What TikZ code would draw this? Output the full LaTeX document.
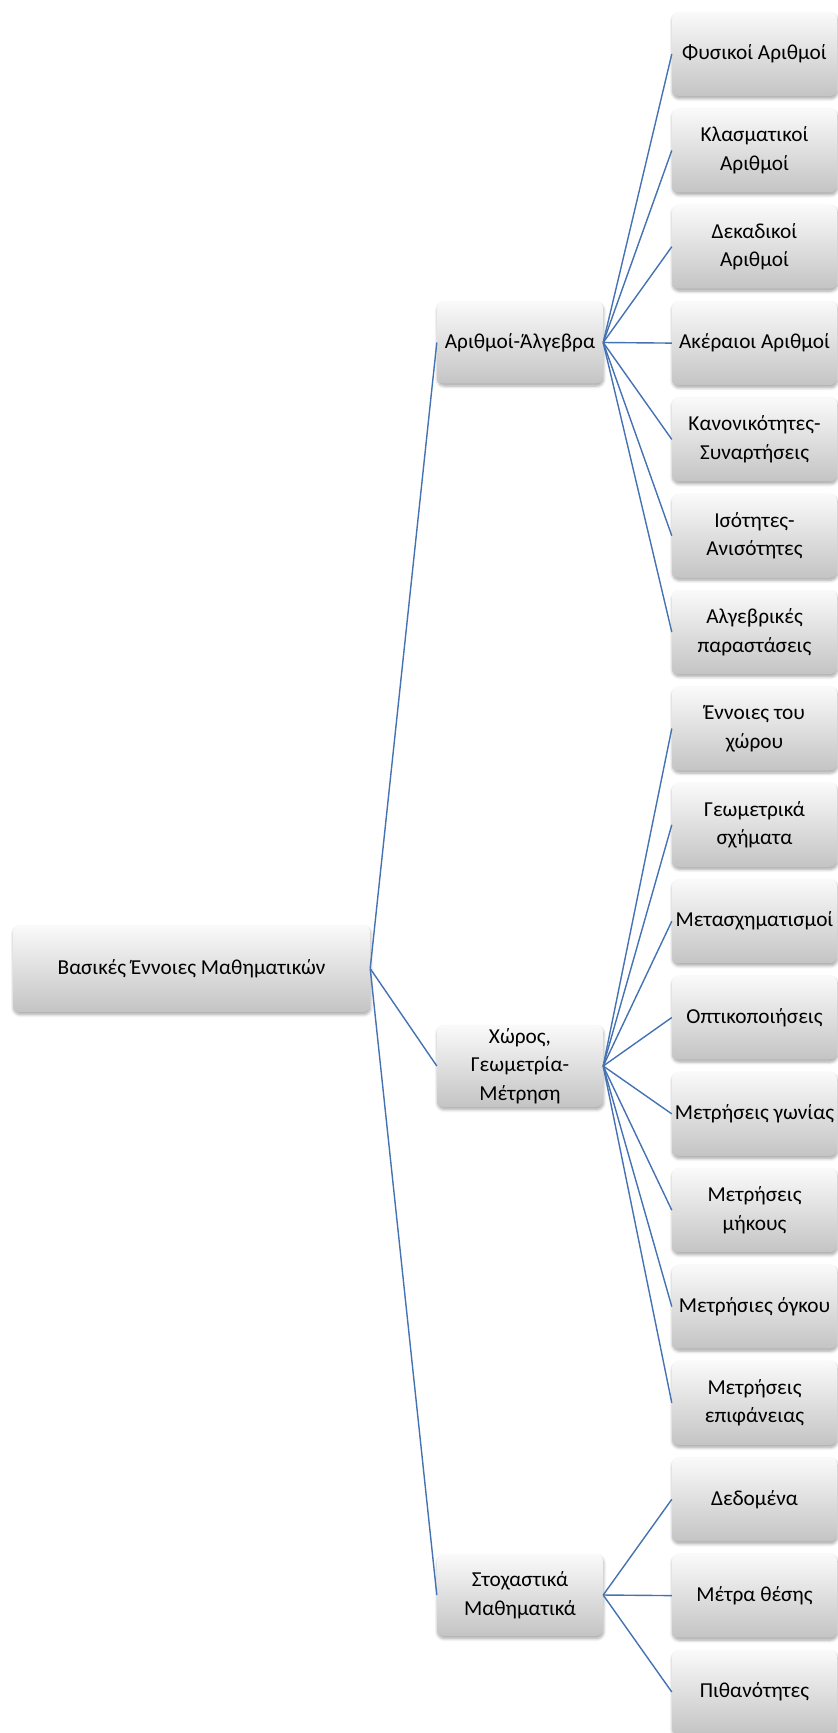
\documentclass[tikz,border=0pt]{standalone}
\usepackage{fontspec}
\setmainfont{Carlito}
\usetikzlibrary{shadows.blur}
\definecolor{linkblue}{RGB}{68,114,178}
\definecolor{boxtop}{RGB}{250,250,250}
\definecolor{boxbot}{RGB}{196,196,196}
\begin{document}
\begin{tikzpicture}[x=1pt,y=-1pt,
  box/.style={rectangle, rounded corners=7pt, top color=boxtop, bottom color=boxbot,
    draw=none, align=center, inner sep=2pt,
    font=\fontsize{21.3}{28.5}\selectfont, text=black,
    blur shadow={shadow xshift=0.5pt, shadow yshift=-2.5pt, shadow blur steps=6, shadow blur radius=3pt, shadow opacity=35}},
  rootbox/.style={box, minimum width=357pt, minimum height=87pt},
  midbox/.style={box, minimum width=166pt, minimum height=82pt},
  leafbox/.style={box, minimum width=165pt, minimum height=84pt},
  link/.style={draw=linkblue, line width=1.4pt}]
\useasboundingbox (0,0) rectangle (838,1733);
\node[rootbox] (root) at (191.5,968.5) {Βασικές Έννοιες Μαθηματικών};
\node[midbox] (alg) at (520,342.5) {Αριθμοί-Άλγεβρα};
\node[midbox] (geo) at (520,1066) {Χώρος,\\Γεωμετρία-\\Μέτρηση};
\node[midbox] (sto) at (520,1595) {Στοχαστικά\\Μαθηματικά};
\node[leafbox] (l1) at (754.5,54) {Φυσικοί Αριθμοί};
\node[leafbox] (l2) at (754.5,150.4) {Κλασματικοί\\Αριθμοί};
\node[leafbox] (l3) at (754.5,246.7) {Δεκαδικοί\\Αριθμοί};
\node[leafbox] (l4) at (754.5,343.1) {Ακέραιοι Αριθμοί};
\node[leafbox] (l5) at (754.5,439.4) {Κανονικότητες-\\Συναρτήσεις};
\node[leafbox] (l6) at (754.5,535.8) {Ισότητες-\\Ανισότητες};
\node[leafbox] (l7) at (754.5,632.1) {Αλγεβρικές\\παραστάσεις};
\node[leafbox] (l8) at (754.5,728.5) {Έννοιες του\\χώρου};
\node[leafbox] (l9) at (754.5,824.8) {Γεωμετρικά\\σχήματα};
\node[leafbox] (l10) at (754.5,921.2) {Μετασχηματισμοί};
\node[leafbox] (l11) at (754.5,1017.5) {Οπτικοποιήσεις};
\node[leafbox] (l12) at (754.5,1113.9) {Μετρήσεις γωνίας};
\node[leafbox] (l13) at (754.5,1210.2) {Μετρήσεις\\μήκους};
\node[leafbox] (l14) at (754.5,1306.6) {Μετρήσιες όγκου};
\node[leafbox] (l15) at (754.5,1402.9) {Μετρήσεις\\επιφάνειας};
\node[leafbox] (l16) at (754.5,1499.3) {Δεδομένα};
\node[leafbox] (l17) at (754.5,1595.6) {Μέτρα θέσης};
\node[leafbox] (l18) at (754.5,1692) {Πιθανότητες};
\foreach \c in {alg,geo,sto} \draw[link] (root.east) -- (\c.west);
\foreach \c in {l1,l2,l3,l4,l5,l6,l7} \draw[link] (alg.east) -- (\c.west);
\foreach \c in {l8,l9,l10,l11,l12,l13,l14,l15} \draw[link] (geo.east) -- (\c.west);
\foreach \c in {l16,l17,l18} \draw[link] (sto.east) -- (\c.west);
\end{tikzpicture}
\end{document}
